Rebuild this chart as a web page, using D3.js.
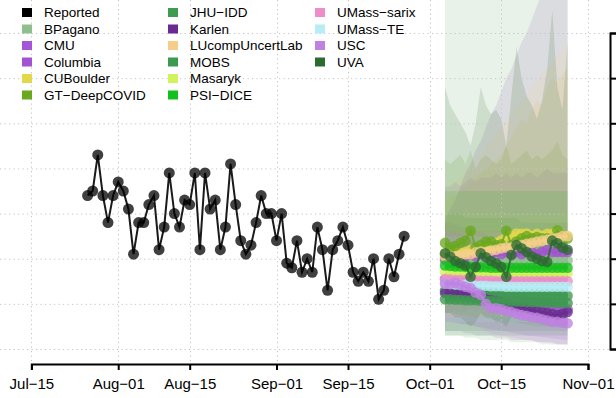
<!DOCTYPE html>
<html><head><meta charset="utf-8">
<script src="https://cdn.jsdelivr.net/npm/d3@7"></script>
<style>
html,body{margin:0;padding:0;background:#fff;}
svg{display:block;font-family:"Liberation Sans",Arial,Helvetica,sans-serif;}
</style></head>
<body>
<svg id="chart" width="616" height="398"></svg>
<script>
// ---------------- DATA ----------------
const reportedStart = "2021-07-26";
const reportedValues = [34,35,43,34,28,34,37,35,31,21,28,28,32,34,22,27,39,30,27,33,32,39,22,39,31,33,22,27,41,32,24,21,23,28,34,30,30,24,30,19,18,24,17,20,17,27,22,13,22,24,27,23,17,15,17,15,20,11,13,20,16,21,25];

const forecastStart = "2021-10-04";

const models = ["BPagano","CMU","Columbia","CUBoulder","GT-DeepCOVID","JHU-IDD","Karlen","LUcompUncertLab","MOBS","Masaryk","PSI-DICE","UMass-sarix","UMass-TE","USC","UVA"];
const modelColors = ["#8fbf8f","#a456d6","#a352d2","#e3d84a","#6aa820","#3f9a52","#6a2b91","#f5cf8a","#3e9950","#d2f25e","#14c01e","#ef8cc9","#b6eef6","#bf82e2","#2d6a31"];

const medBPagano   = [19.6,19.6,19.5,19.5,19.6,19.5,19.5,19.6,19.6,19.5,19.6,19.6,19.6,19.5,19.6,19.6,19.6,19.5,19.6,19.6,19.6,19.6,19.5,19.6,19.6];
const medCMU       = [15.5,15.3,15.0,14.8,14.6,14.3,14.0,13.6,13.4,13.0,12.6,12.2,12.0,11.6,11.2,10.9,10.6,10.3,10.2,10.0,9.8,9.5,9.3,9.0,8.8];
const medColumbia  = [20.0,20.0,20.5,20.0,20.5,21.0,20.5,21.0,21.0,21.0,21.5,21.0,21.5,21.0,21.5,21.0,21.5,21.5,21.0,21.5,22.0,21.5,21.5,21.5,21.5];
const medCUBoulder = [21.0,21.0,21.2,21.5,21.5,22.0,22.0,22.5,22.5,23.0,23.5,24.0,24.5,25.0,25.6,25.5,25.6,25.0,25.5,25.0,25.5,25.5,25.6,25.0,25.0];
const medGT        = [23.5,22.5,22.8,23.5,24.0,26.2,22.5,23.0,23.8,23.8,23.0,23.2,26.2,23.0,23.8,24.5,25.0,24.5,24.8,24.5,24.5,24.5,26.3,25.0,24.5];
const medJHU       = [13.0,13.0,13.0,12.8,12.8,12.8,12.6,12.6,12.5,12.5,12.5,12.4,12.4,12.3,12.3,12.2,12.2,12.2,12.1,12.0,12.0,12.0,11.9,11.9,11.8];
const medKarlen    = [12.4,12.3,12.2,12.2,12.0,11.8,11.6,11.3,11.0,10.8,10.6,10.4,10.0,9.6,9.3,9.2,9.0,8.6,8.4,8.2,8.0,7.8,7.5,7.8,8.2];
const medLU        = [20.5,20.6,20.4,20.8,21.0,21.0,21.4,21.6,21.5,21.8,22.0,22.3,22.5,22.5,22.8,23.0,23.3,23.5,23.8,24.0,24.2,24.5,24.6,25.0,25.0];
const medMOBS      = [11.0,11.0,10.9,10.9,10.8,10.8,10.8,10.7,10.7,10.7,10.6,10.6,10.6,10.5,10.5,10.5,10.4,10.4,10.4,10.3,10.3,10.3,10.2,10.2,10.2];
const medMasaryk   = [17.0,17.0,17.0,16.9,16.9,16.9,16.9,16.8,16.8,16.8,16.8,16.8,16.8,16.8,16.8,16.8,16.8,16.8,16.8,16.8,16.8,16.8,16.8,16.8,16.8];
const medPSI       = [18.5,18.4,18.3,18.3,18.2,18.2,18.1,18.1,18.1,18.0,18.0,18.0,18.0,18.0,18.0,18.0,18.0,18.0,18.0,18.0,18.0,18.0,18.0,18.0,18.0];
const medSarix     = [15.5,15.4,15.3,15.3,15.2,15.2,15.2,15.1,15.1,15.1,15.0,15.0,15.0,15.0,15.0,15.0,15.0,15.0,15.0,15.0,15.0,15.0,15.0,15.0,15.0];
const medTE        = [14.5,14.4,14.3,14.2,14.2,14.1,14.0,14.0,14.0,13.9,13.9,13.9,13.8,13.8,13.8,13.8,13.8,13.8,13.8,13.8,13.8,13.8,13.8,13.8,13.8];
const medUSC       = [14.5,14.4,14.6,14.2,13.8,13.5,12.5,12.0,10.0,9.0,9.0,8.8,8.4,8.2,7.8,7.5,7.3,7.0,6.9,6.6,6.3,6.0,6.0,5.8,5.7];
const medUVA       = [21.2,20.5,19.5,19.0,18.5,16.0,18.2,21.2,20.3,19.5,19.0,18.2,16.0,20.8,23.0,22.3,21.5,20.5,20.0,19.5,19.3,24.0,23.4,22.5,22.0];

const loBPagano   = [3,3,3,3,2.5,2.5,2.5,2,2,2,2,2,2,1.5,1.5,1.5,1.5,1.5,1.5,1,1,1,1,1,1];
const hiBPagano   = [95,95,95,95,95,95,95,95,95,95,95,95,95,95,95,95,95,95,95,95,95,95,95,95,95];
const loCMU       = [6,6,5.8,5.6,5.4,5.2,5,4.8,4.6,4.4,4.2,4,3.8,3.6,3.4,3.2,3,2.9,2.8,2.6,2.5,2.4,2.2,2.1,2];
const hiCMU       = [28,28,27.5,27,27,26.5,26,26,25.5,25,25,24.5,24,24,23.5,23,23,22.5,22.5,22,22,21.5,21.5,21,21];
const loColumbia  = [8,8,8.5,8,8.5,9,8.5,9,9,9,9,9,9,9,9,9,9,9,9,9,9.5,9,9,9,9];
const hiColumbia  = [36,36,37,36,37,38,37,38,38,38,39,38,39,38,39,38,39,39,38,39,40,39,39,39,39];
const loCUBoulder = [10,10,10,10,10,11,11,11,11,11,12,12,12,12,13,13,13,13,13,13,13,13,13,13,13];
const hiCUBoulder = [33,34,34,35,36,37,38,39,40,41,42,43,45,47,49,51,50,53,55,54,58,60,59,61,62];
const loGT        = [11,10,10.5,11,11,12,10,10.5,11,11,10.5,10.5,12,10.5,11,11,11.5,11,11.5,11,11,11,12,11.5,11];
const hiGT        = [42,41,42,43,41,44,40,42,43,42,41,42,45,41,42,43,44,42,43,42,43,44,46,43,42];
const loJHU       = [4,4,4,4,4,4,4,4,4,4,4,4,4,4,4,4,4,4,4,4,4,4,4,4,4];
const hiJHU       = [30,30,30,30,29,29,29,29,29,29,29,29,29,29,29,28,28,28,28,28,28,28,28,28,28];
const loKarlen    = [4,4,4,4,3.5,3.5,3,3,3,3,2.5,2.5,2.5,2,2,2,2,2,1.5,1.5,1.5,1.5,1,1,1];
const hiKarlen    = [28,31,33,36,39,41,44,46,49,52,54,57,60,62,65,68,70,73,76,79,81,84,87,90,92];
const loLU        = [8,8,8,8,9,9,9,9,9,10,10,10,10,10,10,11,11,11,11,11,11,12,12,12,12];
const hiLU        = [35,36,37,38,39,40,42,43,45,46,48,49,51,52,54,55,56,58,59,61,62,63,65,66,68];
const loMOBS      = [3,3,3,3,3,3,3,3,3,3,3,3,3,3,3,3,3,3,3,3,3,3,3,3,3];
const hiMOBS      = [24,24,24,24,24,24,24,24,24,24,24,24,24,24,24,24,24,24,24,24,24,24,24,24,24];
const loMasaryk   = [7,7,7,7,7,7,7,7,7,7,7,7,7,7,7,7,7,7,7,7,7,7,7,7,7];
const hiMasaryk   = [30,30,30,30,30,30,30,30,30,30,30,30,30,30,30,30,30,30,30,30,30,30,30,30,30];
const loPSI       = [8,8,7.8,7.6,7.4,7.2,7,7,6.8,6.6,6.4,6.2,6,6,5.8,5.6,5.4,5.2,5,5,5,5,5,5,5];
const hiPSI       = [35,35,35,35,35,35,35,35,35,35,35,35,35,35,35,35,35,35,35,35,35,35,35,35,35];
const loSarix     = [7,7,7,7,7,7,7,7,7,7,7,7,7,7,7,7,7,7,7,7,7,7,7,7,7];
const hiSarix     = [26,26,26,26,26,26,26,26,26,26,26,26,26,26,26,26,26,26,26,26,26,26,26,26,26];
const loTE        = [6,6,6,6,6,6,6,6,6,6,6,6,6,6,6,6,6,6,6,6,6,6,6,6,6];
const hiTE        = [25,25,25,25,25,25,25,25,25,25,25,25,25,25,25,25,25,25,25,25,25,25,25,25,25];
const loUSC       = [6,6,6,5.8,5.6,5.4,5,4.6,3.8,3.4,3.2,3,2.8,2.6,2.4,2.2,2,1.8,1.7,1.5,1.4,1.2,1.2,1.1,1];
const hiUSC       = [26,26,26,25.5,25,24.5,23.5,23,21,20,20,19.5,19,19,18.5,18,18,17.5,17.5,17,17,16.5,16.5,16.5,16.5];
const loUVA       = [8,8,7,7,6,5,6,8,7,7,6,6,5,7,9,8,7,7,6,6,6,9,8,7,7];
const hiUVA       = [58,54,52,50,48,45,50,58,54,52,53,51,45,56,67,60,56,54,51,55,62,75,58,53,68];

const medians = [medBPagano,medCMU,medColumbia,medCUBoulder,medGT,medJHU,medKarlen,medLU,medMOBS,medMasaryk,medPSI,medSarix,medTE,medUSC,medUVA];
const lowers  = [loBPagano,loCMU,loColumbia,loCUBoulder,loGT,loJHU,loKarlen,loLU,loMOBS,loMasaryk,loPSI,loSarix,loTE,loUSC,loUVA];
const uppers  = [hiBPagano,hiCMU,hiColumbia,hiCUBoulder,hiGT,hiJHU,hiKarlen,hiLU,hiMOBS,hiMasaryk,hiPSI,hiSarix,hiTE,hiUSC,hiUVA];

const xTickDates = ["2021-07-15","2021-08-01","2021-08-15","2021-09-01","2021-09-15","2021-10-01","2021-10-15","2021-11-01"];
const yTickValues = [0,10,20,30,40,50,60,70];

// ---------------- DRAW ----------------
const parse = d3.utcParse("%Y-%m-%d");
const svg = d3.select("#chart");
const W = 616, H = 398;

const x = d3.scaleUtc().domain([parse(xTickDates[0]), parse(xTickDates[xTickDates.length-1])]).range([31.4, 588]);
const y = d3.scaleLinear().domain([0, 70]).range([349, 33]);

const repStart = parse(reportedStart);
const reported = reportedValues.map((v,i) => ({date: d3.utcDay.offset(repStart, i), value: v}));
const fcStart = parse(forecastStart);
const fcDates = medians[0].map((_,i) => d3.utcDay.offset(fcStart, i));

svg.append("defs").append("clipPath").attr("id","plotclip")
  .append("rect").attr("x",0).attr("y",0).attr("width",W).attr("height",352);

// bands
const bandOpacity = [0.2,0.14,0.13,0.14,0.15,0.15,0.11,0.14,0.15,0.14,0.14,0.13,0.14,0.14,0.15];
const bandG = svg.append("g").attr("clip-path","url(#plotclip)");
const area = d3.area().x(d => x(d.date)).y0(d => y(d.lo)).y1(d => y(d.hi));
models.forEach((m, k) => {
  const data = fcDates.map((d,i) => ({date: d, lo: lowers[k][i], hi: uppers[k][i]}));
  bandG.append("path").datum(data).attr("d", area)
    .attr("fill", modelColors[k]).attr("fill-opacity", bandOpacity[k]).attr("stroke","none");
});

// grid
const gridG = svg.append("g").attr("stroke","#c4c4c4").attr("stroke-width",1).attr("stroke-dasharray","1.2,3.3");
gridG.selectAll("line.h").data(yTickValues).join("line").attr("class","h")
  .attr("x1",0).attr("x2",W).attr("y1",d=>y(d)+0.5).attr("y2",d=>y(d)+0.5);
gridG.selectAll("line.v").data(xTickDates).join("line").attr("class","v")
  .attr("x1",d=>Math.round(x(parse(d)))+0.5).attr("x2",d=>Math.round(x(parse(d)))+0.5).attr("y1",0).attr("y2",362);

// forecast medians
const line = d3.line().x(d => x(d.date)).y(d => y(d.value));
models.forEach((m,k) => {
  const data = fcDates.map((d,i) => ({date: d, value: medians[k][i]}));
  const g = svg.append("g");
  g.append("path").datum(data).attr("d", line).attr("fill","none")
    .attr("stroke", modelColors[k]).attr("stroke-width", 2).attr("stroke-opacity",0.85);
  g.selectAll("circle").data(data).join("circle")
    .attr("cx", d => x(d.date)).attr("cy", d => y(d.value)).attr("r", 5.3)
    .attr("fill", modelColors[k]).attr("fill-opacity", 0.78);
});

// reported
svg.append("path").datum(reported).attr("d", line).attr("fill","none")
  .attr("stroke","#1a1a1a").attr("stroke-width",2);
svg.append("g").selectAll("circle").data(reported).join("circle")
  .attr("cx", d => x(d.date)).attr("cy", d => y(d.value)).attr("r", 5.5)
  .attr("fill","#000").attr("fill-opacity",0.75);

// bottom axis
const fmt = d => d3.utcFormat("%b")(d) + "\u2212" + d3.utcFormat("%d")(d);
const xAxis = svg.append("g").attr("transform","translate(0,364)")
  .call(d3.axisBottom(x).tickValues(xTickDates.map(parse)).tickFormat(fmt).tickSizeOuter(0).tickSize(6));
xAxis.select(".domain").attr("stroke","#000").attr("stroke-width",2);
xAxis.selectAll(".tick line").attr("stroke","#000").attr("stroke-width",2);
xAxis.selectAll(".tick text").attr("font-size",15).attr("fill","#000").attr("dy",0).attr("y",25)
  .attr("font-family","'Liberation Sans',Arial,sans-serif");

// right axis (labels fall outside the picture)
const yAxis = svg.append("g").attr("transform","translate(610,0)")
  .call(d3.axisRight(y).tickValues(yTickValues).tickFormat("").tickSizeOuter(0).tickSize(12));
yAxis.select(".domain").attr("stroke","#000").attr("stroke-width",2);
yAxis.selectAll(".tick line").attr("stroke","#000").attr("stroke-width",2);

// legend
const legendNames = ["Reported"].concat(models);
const legendColors = ["#000000"].concat(modelColors);
const colX = [22, 168, 315];
const rowY = [12.5, 29, 45.5, 62, 78.5, 95];
const lg = svg.append("g");
legendNames.forEach((n,i) => {
  const c = Math.floor(i/6), r = i%6;
  lg.append("rect").attr("x", colX[c]).attr("y", rowY[r]-4.5).attr("width",10).attr("height",9)
    .attr("fill", legendColors[i]);
  lg.append("text").attr("x", colX[c]+22).attr("y", rowY[r]+4.8).attr("font-size",13.5)
    .attr("fill","#000").text(n.replace("-","\u2212"));
});
</script>
</body></html>
